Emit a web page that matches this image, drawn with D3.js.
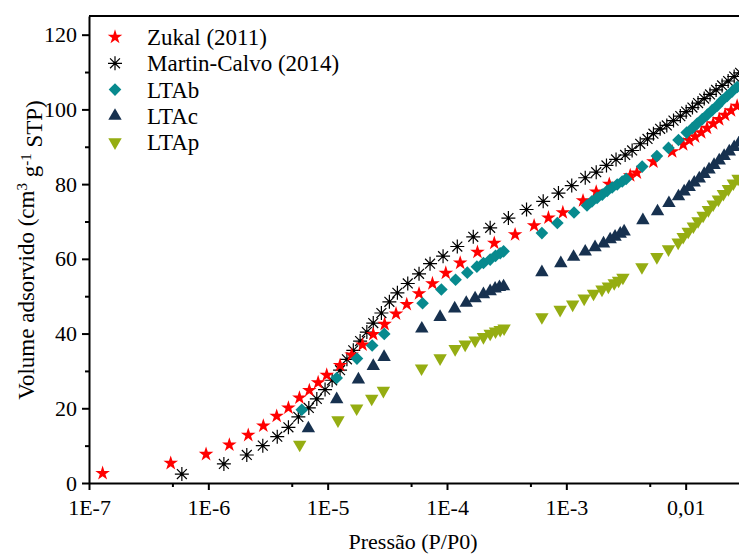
<!DOCTYPE html>
<html>
<head>
<meta charset="utf-8">
<script src="https://cdn.jsdelivr.net/npm/d3@7"></script>
<style>
  body { margin: 0; background: #fff; }
  svg { display: block; }
</style>
</head>
<body>
<script>
// [P/P0, volume] pairs
var zukal = [
  [1.30e-7, 2.6], [4.84e-7, 5.3], [9.57e-7, 7.7], [1.50e-6, 10.2], [2.16e-6, 12.8],
  [2.89e-6, 15.3], [3.74e-6, 17.9], [4.69e-6, 20.1], [5.80e-6, 22.8], [7.02e-6, 24.8],
  [8.32e-6, 26.9], [9.82e-6, 28.9], [1.27e-5, 31.5], [1.59e-5, 34.3], [1.96e-5, 37.0],
  [2.41e-5, 39.8], [3.00e-5, 42.5], [3.74e-5, 45.3], [4.60e-5, 47.8], [5.83e-5, 50.7],
  [7.55e-5, 53.4], [9.77e-5, 56.2], [1.29e-4, 58.9], [1.80e-4, 61.8], [2.49e-4, 64.2],
  [3.72e-4, 66.5], [5.37e-4, 68.9], [7.08e-4, 71.0], [9.35e-4, 72.4], [1.38e-3, 75.6],
  [1.78e-3, 77.9], [2.29e-3, 80.0], [3.43e-3, 82.3], [3.90e-3, 83.0], [5.37e-3, 86.0],
  [7.71e-3, 88.7], [9.53e-3, 90.6], [1.07e-2, 91.7], [1.20e-2, 92.7], [1.35e-2, 93.8],
  [1.51e-2, 95.0], [1.70e-2, 96.2], [1.91e-2, 97.3], [2.14e-2, 98.5], [2.40e-2, 99.7],
  [2.70e-2, 100.9]
];
var martinCalvo = [
  [6.0e-7, 2.4], [1.35e-6, 5.1], [2.10e-6, 7.5], [2.86e-6, 10.0], [3.78e-6, 12.4],
  [4.69e-6, 14.9], [5.68e-6, 17.7], [6.95e-6, 20.1], [8.11e-6, 22.5], [9.51e-6, 25.0],
  [1.09e-5, 27.5], [1.27e-5, 30.2], [1.45e-5, 33.1], [1.64e-5, 35.5], [1.87e-5, 38.0],
  [2.13e-5, 40.4], [2.41e-5, 42.8], [2.82e-5, 45.5], [3.29e-5, 48.5], [3.84e-5, 50.9],
  [4.69e-5, 53.4], [5.83e-5, 56.0], [7.21e-5, 58.7], [9.27e-5, 60.7], [1.22e-4, 63.3],
  [1.66e-4, 65.9], [2.30e-4, 68.3], [3.27e-4, 70.9], [4.64e-4, 73.2], [6.40e-4, 75.4],
  [8.59e-4, 77.6], [1.11e-3, 79.6], [1.44e-3, 81.7], [1.78e-3, 83.2], [2.17e-3, 85.0],
  [2.61e-3, 86.6], [3.11e-3, 87.8], [3.56e-3, 89.0], [4.16e-3, 90.8], [4.79e-3, 92.1],
  [5.37e-3, 93.5], [6.11e-3, 94.8], [6.95e-3, 95.7], [7.91e-3, 97.0], [9.02e-3, 98.2],
  [1.01e-2, 99.4], [1.14e-2, 100.5], [1.27e-2, 101.7], [1.43e-2, 102.9], [1.60e-2, 104.0],
  [1.80e-2, 105.2], [2.02e-2, 106.4], [2.27e-2, 107.6], [2.55e-2, 108.8], [2.86e-2, 109.8]
];
var ltab = [
  [6.07e-6, 19.6], [1.19e-5, 28.1], [1.76e-5, 33.3], [2.36e-5, 36.8], [2.98e-5, 39.9],
  [6.24e-5, 48.1], [8.97e-5, 51.8], [1.18e-4, 54.4], [1.48e-4, 56.3], [1.78e-4, 57.9],
  [2.02e-4, 58.9], [2.30e-4, 59.8], [2.55e-4, 60.8], [2.79e-4, 61.5], [2.98e-4, 62.0],
  [6.24e-4, 66.9], [8.41e-4, 69.6], [1.16e-3, 72.4], [1.49e-3, 74.3], [1.64e-3, 75.4],
  [1.81e-3, 76.3], [2.00e-3, 77.2], [2.20e-3, 78.2], [2.42e-3, 79.1], [2.67e-3, 79.9],
  [2.94e-3, 80.7], [3.17e-3, 81.4], [4.32e-3, 84.7], [5.74e-3, 87.5], [7.18e-3, 89.7],
  [8.71e-3, 91.8], [1.02e-2, 93.8], [1.14e-2, 95.0], [1.25e-2, 96.2], [1.38e-2, 97.4],
  [1.52e-2, 98.6], [1.67e-2, 99.8], [1.84e-2, 101.0], [2.02e-2, 102.4], [2.23e-2, 103.6],
  [2.45e-2, 104.8], [2.70e-2, 106.0]
];
var ltac = [
  [6.89e-6, 14.6], [1.19e-5, 22.4], [1.81e-5, 27.7], [2.41e-5, 31.3], [2.97e-5, 33.7],
  [6.15e-5, 41.3], [8.75e-5, 44.4], [1.16e-4, 46.7], [1.45e-4, 48.2], [1.72e-4, 49.4],
  [2.02e-4, 50.5], [2.30e-4, 51.3], [2.53e-4, 52.0], [2.75e-4, 52.4], [2.98e-4, 52.6],
  [6.24e-4, 56.4], [8.99e-4, 58.8], [1.15e-3, 60.5], [1.44e-3, 61.9], [1.74e-3, 63.1],
  [2.05e-3, 64.1], [2.33e-3, 65.2], [2.56e-3, 65.9], [2.83e-3, 66.7], [3.05e-3, 67.3],
  [4.38e-3, 70.3], [5.81e-3, 72.7], [7.24e-3, 74.9], [8.71e-3, 76.7], [9.71e-3, 78.0],
  [1.07e-2, 79.2], [1.18e-2, 80.4], [1.30e-2, 81.5], [1.43e-2, 82.7], [1.57e-2, 83.9],
  [1.73e-2, 85.1], [1.91e-2, 86.3], [2.10e-2, 87.5], [2.32e-2, 88.7], [2.55e-2, 89.9],
  [2.81e-2, 91.1]
];
var ltap = [
  [5.83e-6, 10.3], [1.22e-5, 16.8], [1.75e-5, 20.0], [2.34e-5, 22.6], [2.93e-5, 24.7],
  [6.12e-5, 30.7], [8.75e-5, 33.4], [1.17e-4, 35.9], [1.42e-4, 37.1], [1.72e-4, 38.2],
  [2.02e-4, 39.1], [2.30e-4, 40.0], [2.55e-4, 40.6], [2.79e-4, 41.0], [3.01e-4, 41.4],
  [6.24e-4, 44.4], [8.87e-4, 46.4], [1.13e-3, 47.8], [1.41e-3, 49.4], [1.69e-3, 50.7],
  [1.99e-3, 51.8], [2.25e-3, 52.6], [2.52e-3, 53.5], [2.74e-3, 54.2], [2.98e-3, 55.0],
  [4.30e-3, 57.8], [5.74e-3, 60.5], [7.18e-3, 62.6], [8.65e-3, 64.4], [9.53e-3, 65.9],
  [1.05e-2, 67.3], [1.16e-2, 68.7], [1.27e-2, 70.1], [1.40e-2, 71.6], [1.55e-2, 73.1],
  [1.70e-2, 74.6], [1.88e-2, 75.9], [2.07e-2, 77.4], [2.28e-2, 78.7], [2.51e-2, 80.2],
  [2.75e-2, 81.5]
];

var xTicks = [1e-7, 1e-6, 1e-5, 1e-4, 1e-3, 1e-2];
var xTickLabels = ["1E-7", "1E-6", "1E-5", "1E-4", "1E-3", "0,01"];
var xMinor = [5e-7, 5e-6, 5e-5, 5e-4, 5e-3, 5e-2];
var yTicks = [0, 20, 40, 60, 80, 100, 120];
var yMinor = [10, 30, 50, 70, 90, 110];

(function() {
  var FONT = "Liberation Serif, Times New Roman, serif";
  var width = 739, height = 555;
  var mLeft = 89, mTop = 16, mBottom = 483, mRight = 805;

  var svg = d3.select("body").append("svg")
      .attr("width", width)
      .attr("height", height)
      .attr("font-family", FONT);

  var x = d3.scaleLog().domain([1e-7, 0.1]).range([mLeft, mRight]);
  var y = d3.scaleLinear().domain([0, 125]).range([mBottom, mTop]);

  // frame top line
  svg.append("line")
      .attr("x1", mLeft).attr("x2", mRight)
      .attr("y1", mTop).attr("y2", mTop)
      .attr("stroke", "#000").attr("stroke-width", 2);

  // minor ticks
  svg.append("g")
      .attr("transform", "translate(0," + mBottom + ")")
      .call(d3.axisBottom(x).tickValues(xMinor).tickFormat("").tickSize(4).tickSizeOuter(0))
      .call(function(g) { g.select(".domain").remove(); })
      .selectAll("line").attr("stroke-width", 2);
  svg.append("g")
      .attr("transform", "translate(" + mLeft + ",0)")
      .call(d3.axisLeft(y).tickValues(yMinor).tickFormat("").tickSize(4).tickSizeOuter(0))
      .call(function(g) { g.select(".domain").remove(); })
      .selectAll("line").attr("stroke-width", 2);

  // main axes
  var xAxis = svg.append("g")
      .attr("transform", "translate(0," + mBottom + ")")
      .call(d3.axisBottom(x).tickValues(xTicks)
          .tickFormat(function(d, i) { return xTickLabels[i]; })
          .tickSize(7).tickSizeOuter(0).tickPadding(9));
  var yAxis = svg.append("g")
      .attr("transform", "translate(" + mLeft + ",0)")
      .call(d3.axisLeft(y).tickValues(yTicks).tickSize(7).tickSizeOuter(0).tickPadding(5));

  [xAxis, yAxis].forEach(function(g) {
    g.attr("font-family", FONT).attr("font-size", 22);
    g.select(".domain").attr("stroke-width", 2);
    g.selectAll(".tick line").attr("stroke-width", 2);
    g.selectAll("text").attr("fill", "#000");
  });

  // axis titles
  svg.append("text")
      .attr("x", 413)
      .attr("y", 549)
      .attr("text-anchor", "middle")
      .attr("font-size", 22)
      .text("Pressão (P/P0)");

  var yTitle = svg.append("text")
      .attr("transform", "translate(34,250) rotate(-90)")
      .attr("text-anchor", "middle")
      .attr("font-size", 23);
  yTitle.append("tspan").text("Volume adsorvido (cm");
  yTitle.append("tspan").attr("dy", "-0.5em").attr("font-size", 15).text("3");
  yTitle.append("tspan").attr("dy", "0.5em").text(" g");
  yTitle.append("tspan").attr("dy", "-0.5em").attr("font-size", 15).text("-1");
  yTitle.append("tspan").attr("dy", "0.5em").text(" STP)");

  // asterisk marker: vertical, horizontal and two diagonals
  function asterisk(r) {
    var d = "";
    [0, 45, 90, 135].forEach(function(a) {
      var rad = a * Math.PI / 180, dx = r * Math.cos(rad), dy = r * Math.sin(rad);
      d += "M" + (-dx) + "," + (-dy) + "L" + dx + "," + dy;
    });
    return d;
  }

  var series = [
    {name: "Martin-Calvo (2014)", data: martinCalvo, color: "#000", kind: "ast"},
    {name: "Zukal (2011)", data: zukal, color: "#ff0000", kind: "star"},
    {name: "LTAb", data: ltab, color: "#078a8e", kind: "diamond"},
    {name: "LTAc", data: ltac, color: "#17314f", kind: "up"},
    {name: "LTAp", data: ltap, color: "#95ad12", kind: "down"}
  ];

  function markerPath(kind) {
    if (kind === "star") return d3.symbol(d3.symbolStar, 66)();
    if (kind === "diamond") return d3.symbol(d3.symbolSquare, 80)();
    if (kind === "up" || kind === "down") return d3.symbol(d3.symbolTriangle, 78)();
    return asterisk(7);
  }
  function markerTransform(kind, px, py) {
    var t = "translate(" + px + "," + py + ")";
    if (kind === "diamond") t += " rotate(45)";
    if (kind === "down") t += " rotate(180)";
    return t;
  }
  function drawMarker(g, s, px, py) {
    var p = g.append("path")
        .attr("d", markerPath(s.kind))
        .attr("transform", markerTransform(s.kind, px, py));
    if (s.kind === "ast") {
      p.attr("fill", "none").attr("stroke", s.color).attr("stroke-width", 1.2);
      g.append("circle").attr("cx", px).attr("cy", py).attr("r", 1.5).attr("fill", s.color);
    } else {
      p.attr("fill", s.color);
    }
  }

  var plot = svg.append("g");
  series.forEach(function(s) {
    var g = plot.append("g");
    s.data.forEach(function(d) {
      drawMarker(g, s, x(d[0]), y(d[1]));
    });
  });

  // legend
  var legendOrder = [series[1], series[0], series[2], series[3], series[4]];
  var legend = svg.append("g");
  legendOrder.forEach(function(s, i) {
    var ly = 37 + i * 26.3;
    drawMarker(legend, s, 115, ly);
    legend.append("text")
        .attr("x", 147)
        .attr("y", ly)
        .attr("dy", "0.35em")
        .attr("font-size", 23)
        .text(s.name);
  });
})();
</script>
</body>
</html>
